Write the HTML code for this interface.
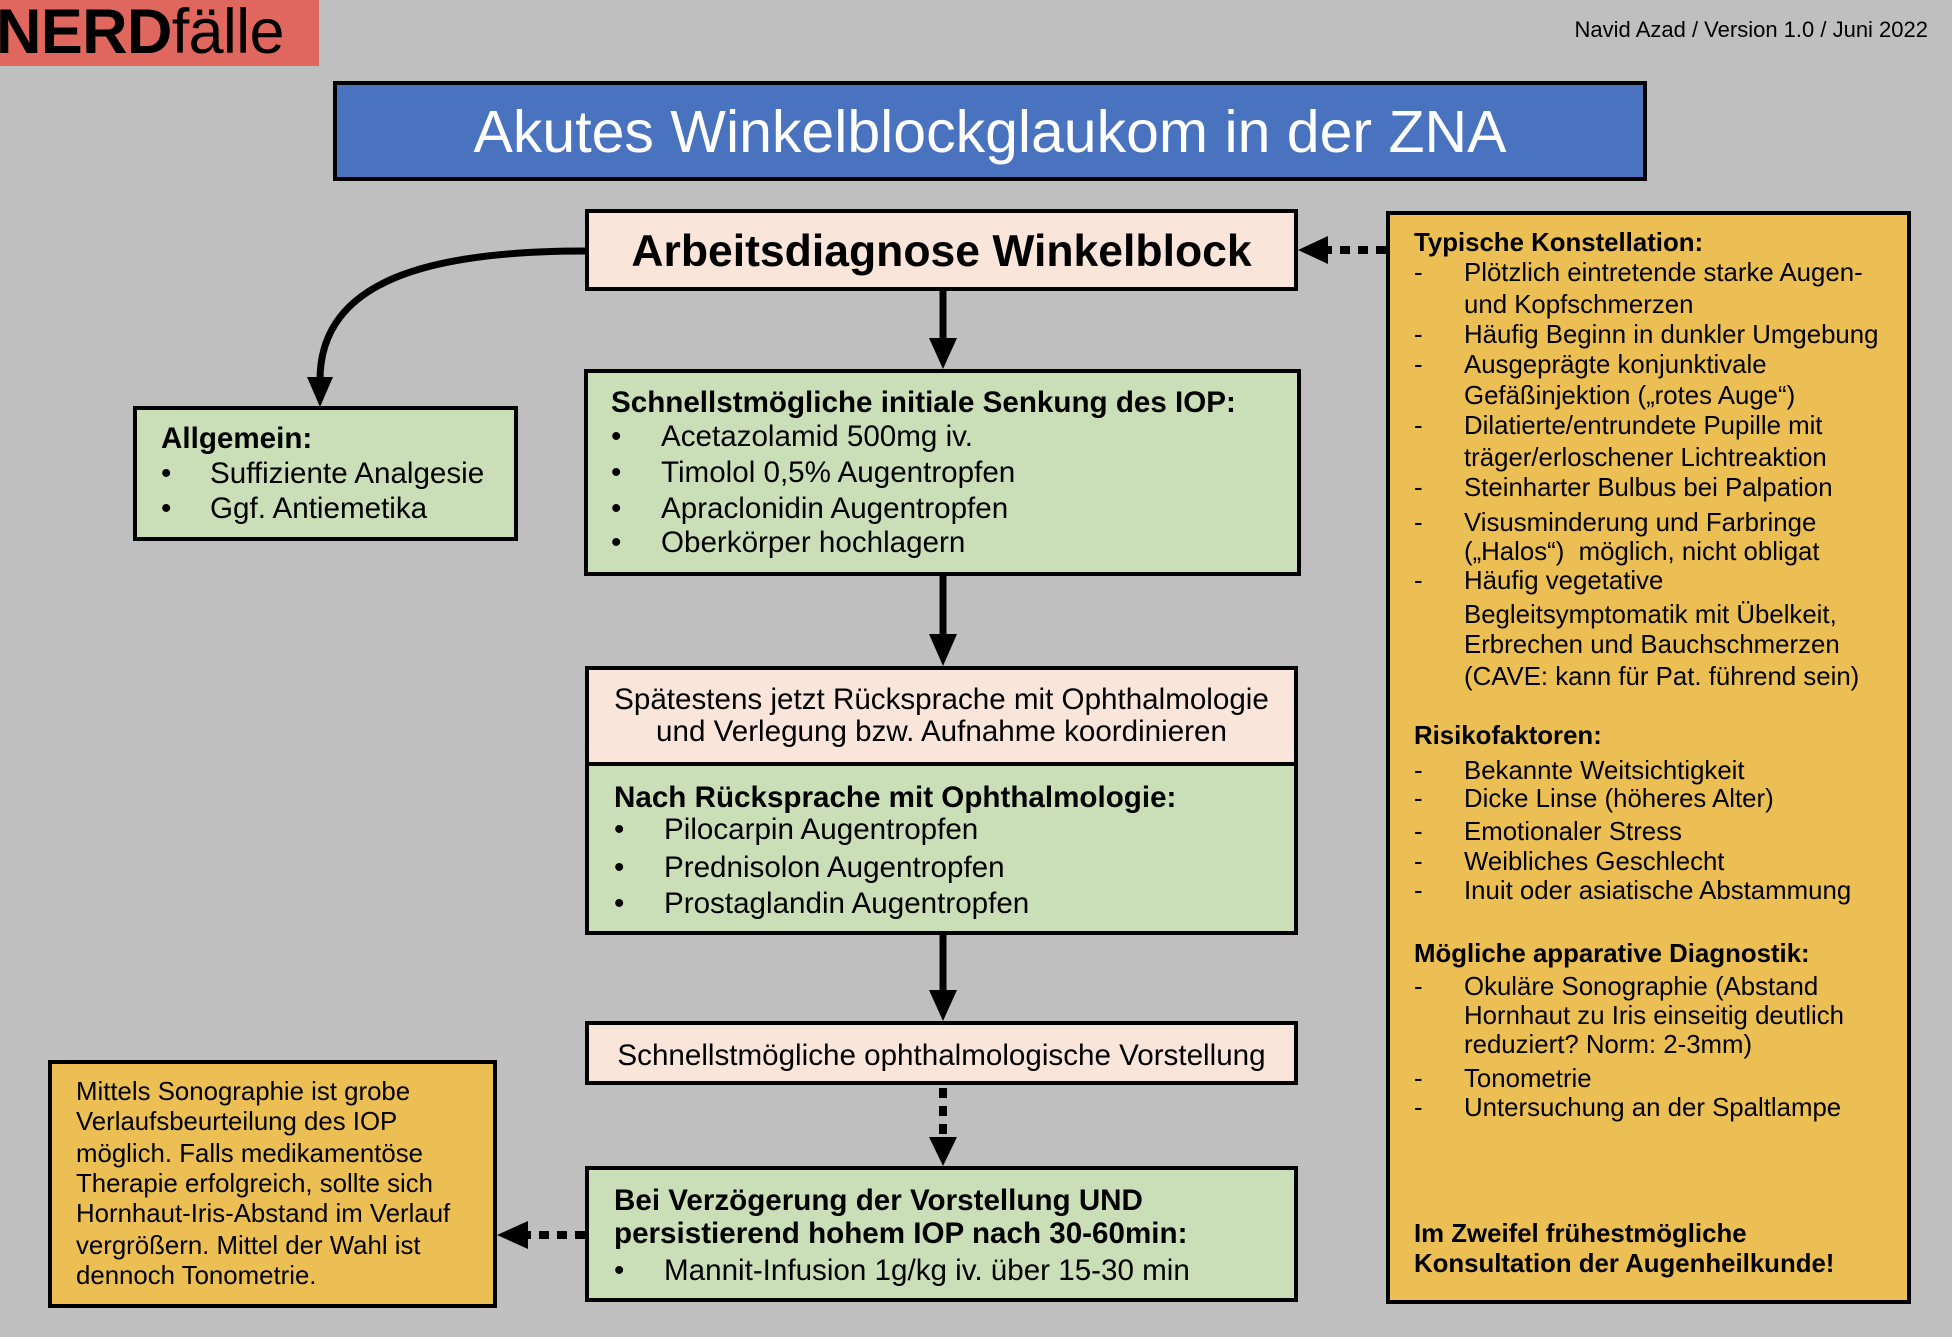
<!DOCTYPE html>
<html><head><meta charset="utf-8"><style>
html,body{margin:0;padding:0}
body{width:1952px;height:1337px;background:#bfbfbf;position:relative;overflow:hidden;font-family:"Liberation Sans",Arial,sans-serif;color:#000}
.box{position:absolute;border:4px solid #000;box-sizing:border-box}
.t{position:absolute;white-space:nowrap;line-height:30px;height:30px}
.b{font-weight:bold}
.p{font-size:29.6px}
.r{font-size:25.8px}
.s{font-size:25.8px}
</style></head><body>
<div style="position:absolute;left:0;top:0;width:319px;height:66px;background:#e0675e"></div>
<div class="t" style="left:-4px;top:2px;font-size:63px;line-height:60px;height:60px;letter-spacing:-0.7px"><b>NERD</b>fälle</div>
<div class="t" style="right:24px;top:15px;font-size:22px">Navid Azad / Version 1.0 / Juni 2022</div>

<div class="box" style="left:333px;top:81px;width:1314px;height:100px;background:#4a73bf;"></div>
<div class="t" style="left:333px;width:1314px;top:117px;text-align:center;color:#fff;font-size:59px">Akutes Winkelblockglaukom in der ZNA</div>

<div class="box" style="left:585px;top:209px;width:713px;height:82px;background:#f9e5d9"></div>
<div class="t b" style="left:585px;width:713px;top:237px;text-align:center;font-size:44.5px">Arbeitsdiagnose Winkelblock</div>

<div class="box" style="left:133px;top:406px;width:385px;height:135px;background:#cadfb8"></div>
<div class="t p b" style="left:161px;top:424px">Allgemein:</div>
<div class="t p" style="left:161px;top:459px">•</div><div class="t p" style="left:210px;top:459px">Suffiziente Analgesie</div>
<div class="t p" style="left:161px;top:494px">•</div><div class="t p" style="left:210px;top:494px">Ggf. Antiemetika</div>

<div class="box" style="left:584px;top:369px;width:717px;height:207px;background:#cadfb8"></div>
<div class="t p b" style="left:611px;top:388px">Schnellstmögliche initiale Senkung des IOP:</div>
<div class="t p" style="left:611px;top:422px">•</div><div class="t p" style="left:661px;top:422px">Acetazolamid 500mg iv.</div>
<div class="t p" style="left:611px;top:458px">•</div><div class="t p" style="left:661px;top:458px">Timolol 0,5% Augentropfen</div>
<div class="t p" style="left:611px;top:494px">•</div><div class="t p" style="left:661px;top:494px">Apraclonidin Augentropfen</div>
<div class="t p" style="left:611px;top:528px">•</div><div class="t p" style="left:661px;top:528px">Oberkörper hochlagern</div>

<div class="box" style="left:585px;top:666px;width:713px;height:101px;background:#f9e5d9"></div>
<div class="box" style="left:585px;top:762px;width:713px;height:173px;background:#cadfb8"></div>
<div class="t p" style="left:585px;width:713px;text-align:center;top:685px">Spätestens jetzt Rücksprache mit Ophthalmologie</div>
<div class="t p" style="left:585px;width:713px;text-align:center;top:717px">und Verlegung bzw. Aufnahme koordinieren</div>
<div class="t p b" style="left:614px;top:783px">Nach Rücksprache mit Ophthalmologie:</div>
<div class="t p" style="left:614px;top:815px">•</div><div class="t p" style="left:664px;top:815px">Pilocarpin Augentropfen</div>
<div class="t p" style="left:614px;top:853px">•</div><div class="t p" style="left:664px;top:853px">Prednisolon Augentropfen</div>
<div class="t p" style="left:614px;top:889px">•</div><div class="t p" style="left:664px;top:889px">Prostaglandin Augentropfen</div>

<div class="box" style="left:585px;top:1021px;width:713px;height:64px;background:#f9e5d9"></div>
<div class="t p" style="left:585px;width:713px;text-align:center;top:1041px">Schnellstmögliche ophthalmologische Vorstellung</div>

<div class="box" style="left:585px;top:1166px;width:713px;height:136px;background:#cadfb8"></div>
<div class="t p b" style="left:614px;top:1186px">Bei Verzögerung der Vorstellung UND</div>
<div class="t p b" style="left:614px;top:1219px">persistierend hohem IOP nach 30-60min:</div>
<div class="t p" style="left:614px;top:1256px">•</div><div class="t p" style="left:664px;top:1256px">Mannit-Infusion 1g/kg iv. über 15-30 min</div>

<div class="box" style="left:48px;top:1060px;width:449px;height:248px;background:#ecbf55"></div>
<div class="t s" style="left:76px;top:1077px">Mittels Sonographie ist grobe</div>
<div class="t s" style="left:76px;top:1107px">Verlaufsbeurteilung des IOP</div>
<div class="t s" style="left:76px;top:1139px">möglich. Falls medikamentöse</div>
<div class="t s" style="left:76px;top:1169px">Therapie erfolgreich, sollte sich</div>
<div class="t s" style="left:76px;top:1199px">Hornhaut-Iris-Abstand im Verlauf</div>
<div class="t s" style="left:76px;top:1231px">vergrößern. Mittel der Wahl ist</div>
<div class="t s" style="left:76px;top:1261px">dennoch Tonometrie.</div>

<div class="box" style="left:1386px;top:211px;width:525px;height:1093px;background:#ecbf55"></div>
<div class="t r b" style="left:1414px;top:228px">Typische Konstellation:</div>
<div class="t r" style="left:1414px;top:258px">-</div><div class="t r" style="left:1464px;top:258px">Plötzlich eintretende starke Augen-</div>
<div class="t r" style="left:1464px;top:290px">und Kopfschmerzen</div>
<div class="t r" style="left:1414px;top:320px">-</div><div class="t r" style="left:1464px;top:320px">Häufig Beginn in dunkler Umgebung</div>
<div class="t r" style="left:1414px;top:350px">-</div><div class="t r" style="left:1464px;top:350px">Ausgeprägte konjunktivale</div>
<div class="t r" style="left:1464px;top:381px">Gefäßinjektion („rotes Auge“)</div>
<div class="t r" style="left:1414px;top:411px">-</div><div class="t r" style="left:1464px;top:411px">Dilatierte/entrundete Pupille mit</div>
<div class="t r" style="left:1464px;top:443px">träger/erloschener Lichtreaktion</div>
<div class="t r" style="left:1414px;top:473px">-</div><div class="t r" style="left:1464px;top:473px">Steinharter Bulbus bei Palpation</div>
<div class="t r" style="left:1414px;top:508px">-</div><div class="t r" style="left:1464px;top:508px">Visusminderung und Farbringe</div>
<div class="t r" style="left:1464px;top:537px">(„Halos“)&nbsp; möglich, nicht obligat</div>
<div class="t r" style="left:1414px;top:566px">-</div><div class="t r" style="left:1464px;top:566px">Häufig vegetative</div>
<div class="t r" style="left:1464px;top:600px">Begleitsymptomatik mit Übelkeit,</div>
<div class="t r" style="left:1464px;top:630px">Erbrechen und Bauchschmerzen</div>
<div class="t r" style="left:1464px;top:662px">(CAVE: kann für Pat. führend sein)</div>
<div class="t r b" style="left:1414px;top:721px">Risikofaktoren:</div>
<div class="t r" style="left:1414px;top:756px">-</div><div class="t r" style="left:1464px;top:756px">Bekannte Weitsichtigkeit</div>
<div class="t r" style="left:1414px;top:784px">-</div><div class="t r" style="left:1464px;top:784px">Dicke Linse (höheres Alter)</div>
<div class="t r" style="left:1414px;top:817px">-</div><div class="t r" style="left:1464px;top:817px">Emotionaler Stress</div>
<div class="t r" style="left:1414px;top:847px">-</div><div class="t r" style="left:1464px;top:847px">Weibliches Geschlecht</div>
<div class="t r" style="left:1414px;top:876px">-</div><div class="t r" style="left:1464px;top:876px">Inuit oder asiatische Abstammung</div>
<div class="t r b" style="left:1414px;top:939px">Mögliche apparative Diagnostik:</div>
<div class="t r" style="left:1414px;top:972px">-</div><div class="t r" style="left:1464px;top:972px">Okuläre Sonographie (Abstand</div>
<div class="t r" style="left:1464px;top:1001px">Hornhaut zu Iris einseitig deutlich</div>
<div class="t r" style="left:1464px;top:1030px">reduziert? Norm: 2-3mm)</div>
<div class="t r" style="left:1414px;top:1064px">-</div><div class="t r" style="left:1464px;top:1064px">Tonometrie</div>
<div class="t r" style="left:1414px;top:1093px">-</div><div class="t r" style="left:1464px;top:1093px">Untersuchung an der Spaltlampe</div>
<div class="t r b" style="left:1414px;top:1219px">Im Zweifel frühestmögliche</div>
<div class="t r b" style="left:1414px;top:1249px">Konsultation der Augenheilkunde!</div>

<svg width="1952" height="1337" style="position:absolute;left:0;top:0" xmlns="http://www.w3.org/2000/svg">
<g stroke="#000" stroke-width="7" fill="none">
<path d="M585 251 C430 251 320 280 320 380"/>
<line x1="943" y1="291" x2="943" y2="340"/>
<line x1="943" y1="576" x2="943" y2="636"/>
<line x1="943" y1="935" x2="943" y2="992"/>
<line x1="943" y1="1088" x2="943" y2="1140" stroke-dasharray="10 8" stroke-width="8"/>
<line x1="585" y1="1235" x2="525" y2="1235" stroke-dasharray="10 8" stroke-width="8"/>
<line x1="1386" y1="250" x2="1325" y2="250" stroke-dasharray="10 8" stroke-width="8"/>
</g>
<g fill="#000">
<polygon points="307,377 333,377 320,407"/>
<polygon points="929,338 957,338 943,369"/>
<polygon points="929,634 957,634 943,666"/>
<polygon points="929,990 957,990 943,1021"/>
<polygon points="929,1137 957,1137 943,1166"/>
<polygon points="528,1221 528,1249 497,1235"/>
<polygon points="1328,236 1328,264 1298,250"/>
</g>
</svg>
</body></html>
